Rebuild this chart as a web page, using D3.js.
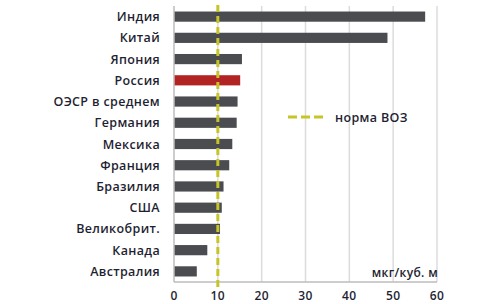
<!DOCTYPE html>
<html><head><meta charset="utf-8">
<script src="https://cdn.jsdelivr.net/npm/d3@7"></script>
<style>body{margin:0;background:#fff}svg{display:block}text{font-family:"Open Sans",sans-serif}</style>
</head><body><svg id="c" width="484" height="304"></svg>
<script>
const categories = ["Индия","Китай","Япония","Россия","ОЭСР в среднем","Германия","Мексика","Франция","Бразилия","США","Великобрит.","Канада","Австралия"];
const values = [57.3,48.7,15.5,15.1,14.5,14.3,13.3,12.6,11.3,10.9,10.5,7.6,5.2];
const highlight = "Россия";
const xTicks = [0,10,20,30,40,50,60];
const whoNorm = 10;
const legendLabel = "норма ВОЗ";
const unitLabel = "мкг/куб. м";

const svg = d3.select("#c");
const x = d3.scaleLinear().domain([0,60]).range([174,437]);
const y = d3.scaleBand().domain(categories).range([6,282]).paddingInner(0.52).paddingOuter(0.26);
const fs = 12.5;
const fw = 600;
const ls = 0.35;
const tc = "#1f1f33";

svg.append("g").selectAll("line").data(xTicks.filter(d=>d>0)).join("line")
  .attr("x1",d=>x(d)).attr("x2",d=>x(d)).attr("y1",6).attr("y2",282)
  .attr("stroke","#dcdcdc").attr("stroke-width",1.5);

svg.append("g").selectAll("rect").data(categories).join("rect")
  .attr("x",x(0)).attr("y",d=>y(d)).attr("height",y.bandwidth())
  .attr("width",(d,i)=>x(values[i])-x(0))
  .attr("fill",d=>d===highlight?"#b22424":"#4a4c4f");

svg.append("line").attr("x1",x(0)).attr("x2",x(0)).attr("y1",6).attr("y2",282).attr("stroke","#bdbdbd").attr("stroke-width",1.5);
svg.append("line").attr("x1",x(0)).attr("x2",x(60)).attr("y1",282).attr("y2",282).attr("stroke","#bdbdbd").attr("stroke-width",1.5);

svg.append("g").selectAll("text").data(categories).join("text")
  .attr("x",160).attr("y",d=>y(d)+y.bandwidth()/2).attr("dy","0.36em")
  .attr("text-anchor","end").attr("font-size",fs).attr("font-weight",fw).attr("letter-spacing",ls)
  .attr("fill",tc).text(d=>d);

svg.append("g").selectAll("text").data(xTicks).join("text")
  .attr("x",d=>x(d)).attr("y",296).attr("dy","0.36em").attr("text-anchor","middle")
  .attr("font-size",12).attr("font-weight",fw).attr("letter-spacing",ls).attr("fill",tc).text(d=>d);

svg.append("line").attr("x1",x(whoNorm)).attr("x2",x(whoNorm)).attr("y1",5).attr("y2",289)
  .attr("stroke","#c5c528").attr("stroke-width",3).attr("stroke-dasharray","7,4");

svg.append("line").attr("x1",288).attr("x2",327).attr("y1",117).attr("y2",117)
  .attr("stroke","#c5c528").attr("stroke-width",3).attr("stroke-dasharray","9,4");
svg.append("text").attr("x",335).attr("y",117).attr("dy","0.36em").attr("font-size",fs).attr("font-weight",fw).attr("letter-spacing",ls)
  .attr("fill",tc).text(legendLabel);

svg.append("text").attr("x",438).attr("y",273).attr("dy","0.36em").attr("text-anchor","end")
  .attr("font-size",12).attr("font-weight",fw).attr("letter-spacing",ls).attr("fill",tc).text(unitLabel);
</script></body></html>
